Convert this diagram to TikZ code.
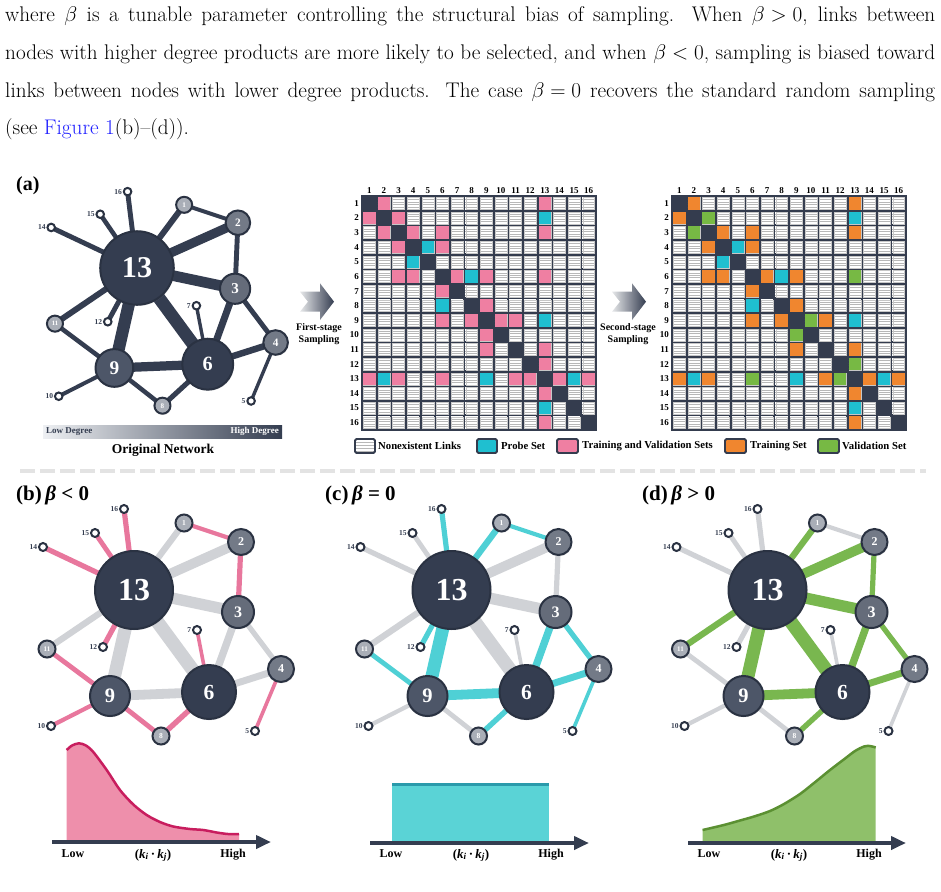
\RequirePackage{fix-cm}
\documentclass[tikz,border=0pt]{standalone}
\usepackage{fontspec}
\newfontfamily\figfont{Liberation Serif}
\usetikzlibrary{arrows.meta,shadows}
\pgfdeclarelayer{bgl}
\pgfdeclarelayer{edges}
\pgfsetlayers{bgl,edges,main}

\definecolor{ndark}{HTML}{343D50}
\definecolor{nnine}{HTML}{4D5668}
\definecolor{nthree}{HTML}{656C7A}
\definecolor{ngray}{HTML}{737A87}
\definecolor{nlight}{HTML}{A9AEB7}
\definecolor{nborder}{HTML}{2A3242}
\definecolor{egray}{HTML}{D0D2D6}
\definecolor{hlb}{HTML}{E8779D}
\definecolor{hlc}{HTML}{4FD0D5}
\definecolor{hld}{HTML}{79B74F}
\definecolor{probec}{HTML}{1FBFD0}
\definecolor{pinkc}{HTML}{EF7FA2}
\definecolor{orangec}{HTML}{F0862F}
\definecolor{greenc}{HTML}{77B944}
\definecolor{griddark}{HTML}{343C4E}
\definecolor{sepgray}{HTML}{E3E3E3}
\definecolor{linkblue}{RGB}{30,30,255}
\definecolor{barlight}{HTML}{EEF0F3}
\definecolor{pinkfill}{HTML}{EE8FAB}
\definecolor{pinkline}{HTML}{C81D5E}
\definecolor{cyanfill}{HTML}{5AD3D6}
\definecolor{cyanline}{HTML}{2A9AAB}
\definecolor{greenfill}{HTML}{8FC06A}
\definecolor{greenline}{HTML}{5B9032}
\colorlet{m1T}{pinkc}\colorlet{m1V}{pinkc}\colorlet{m1P}{probec}
\colorlet{m2T}{orangec}\colorlet{m2V}{greenc}\colorlet{m2P}{probec}

\newcommand\fixmuskips{\thickmuskip=5mu\relax\medmuskip=4mu\relax}

\tikzset{
  netnode/.style={circle, draw=nborder, line width=2pt, inner sep=0pt, text=white,
    drop shadow={opacity=0.22, shadow xshift=0.8pt, shadow yshift=-1.2pt}},
  tinynode/.style={circle, draw=nborder, fill=white, line width=2pt, inner sep=0pt},
  tinylabel/.style={font=\figfont\bfseries\fontsize{7.5}{7.5}\selectfont, text=ndark, inner sep=0.3pt},
  mlabel/.style={font=\figfont\bfseries\fontsize{9}{9}\selectfont, text=black, inner sep=0.5pt},
  cellline/.style={draw=black!28, line width=0.35pt},
  cellrim/.style={draw=black!22, line width=0.4pt},
  legtext/.style={font=\figfont\bfseries\fontsize{10.7}{10.7}\selectfont, anchor=west, inner sep=0pt},
  legrim/.style={draw=griddark, line width=1.8pt, rounded corners=1.5pt},
  titletext/.style={font=\figfont\bfseries\fontsize{21}{21}\selectfont, anchor=base west, inner sep=0pt},
  axislabel/.style={font=\figfont\bfseries\fontsize{12}{12}\selectfont, anchor=base, inner sep=0pt},
  axisline/.style={draw=ndark, line width=4pt, -{Triangle[length=15pt,width=13pt]}},
  sampletext/.style={font=\figfont\bfseries\fontsize{10}{12}\selectfont, align=center, inner sep=0pt},
  paratext/.style={anchor=base west, inner sep=0pt, font=\fontsize{21.2}{24}\selectfont},
}

% #1 prefix, #2 cx, #3 cy, #4 scale, #5 mode (0 a, 1 b, 2 c, 3 d)
\newcommand\drawnet[5]{%
  \foreach \nn/\dx/\dy/\rr/\fc/\fsz in {13/0/0/39/ndark/32, 6/75/102/27/ndark/21.5, 9/-24/106/20/nnine/20.5,
     3/104/22/16/nthree/16, 2/107/-48/13/ngray/12, 4/147/79/13/ngray/12,
     1/50/-67/8.5/nlight/7.5, 11/-87/59/8.5/nlight/7, 8/27/146/8.5/nlight/7.5}{%
    \pgfmathsetmacro\fsize{\fsz*#4}%
    \node[netnode, minimum size={2*\rr*#4*1pt}, fill=\fc,
      font=\figfont\bfseries\fontsize{\fsize}{\fsize}\selectfont]
      (#1\nn) at ({#2+\dx*#4},{#3+\dy*#4}) {\nn};
  }%
  \foreach \nn/\dx/\dy in {16/-10/-81, 15/-39/-57, 14/-91/-43, 12/-31/57, 7/63/40, 10/-83/136, 5/121/141}{%
    \node[tinynode, minimum size={8*#4*1pt}, label={[tinylabel]left:\nn}]
      (#1\nn) at ({#2+\dx*#4},{#3+\dy*#4}) {};
  }%
  \begin{pgfonlayer}{edges}
  \foreach \na/\nb/\lw/\hb/\hc/\hd in {13/16/5.2/1/1/0, 13/15/4.8/1/0/0, 13/14/5.2/1/0/0, 13/1/6.3/0/1/1,
     13/2/9.8/0/0/1, 13/3/11.3/0/0/1, 13/11/6.3/0/0/1, 13/12/5.2/1/1/0, 13/9/13/0/1/1, 13/6/13.5/0/0/1,
     1/2/4.2/1/1/0, 2/3/5.2/1/0/1, 3/6/7.4/0/1/1, 3/4/5.2/0/1/1, 6/7/3.6/1/0/0, 6/4/6.9/0/1/1,
     6/9/9.8/0/1/1, 6/8/5.4/1/1/1, 9/11/4.8/1/1/0, 9/10/4.2/1/0/0, 9/8/4.8/1/0/0, 4/5/3.6/1/1/0}{%
    \ifcase#5\relax \def\ecol{ndark}%
    \or \ifnum\hb=1 \def\ecol{hlb}\else\def\ecol{egray}\fi
    \or \ifnum\hc=1 \def\ecol{hlc}\else\def\ecol{egray}\fi
    \or \ifnum\hd=1 \def\ecol{hld}\else\def\ecol{egray}\fi
    \fi
    \draw[draw=\ecol, line width={\lw*#4*1pt}] (#1\na.center) -- (#1\nb.center);
  }%
  \end{pgfonlayer}
}

% #1 prefix, #2 left x, #3 top y, #4 colour prefix
\newcommand\drawmatrix[4]{%
  \fill[griddark] (#2-1,#3-1) rectangle (#2+235,#3+235);
  \foreach \mr in {1,...,16}{%
    \node[mlabel, anchor=east] (#1r\mr) at (#2-2.5, {#3+(\mr-0.5)*14.625}) {\mr};
    \node[mlabel, anchor=south] (#1c\mr) at ({#2+(\mr-0.5)*14.625}, #3-1.5) {\mr};
    \foreach \mc in {1,...,16}{%
      \ifnum\mr=\mc\relax\else
        \pgfmathsetmacro\xa{#2+(\mc-1)*14.625+1.1}%
        \pgfmathsetmacro\ya{#3+(\mr-1)*14.625+1.1}%
        \fill[white] (\xa,\ya) rectangle +(12.4,12.4);
        \draw[cellline] (\xa,\ya+2.5) -- +(12.4,0) (\xa,\ya+4.9) -- +(12.4,0)
                        (\xa,\ya+7.4) -- +(12.4,0) (\xa,\ya+9.9) -- +(12.4,0);
        \draw[cellrim] (\xa+0.3,\ya+0.3) rectangle +(11.8,11.8);
      \fi
    }%
  }%
  \foreach \ea/\eb/\et in {1/2/T, 1/13/T, 2/3/V, 2/13/P, 3/4/T, 3/6/T, 3/13/T, 4/5/P, 4/6/T, 6/7/T,
     6/8/P, 6/9/T, 6/13/V, 8/9/T, 9/10/V, 9/11/T, 9/13/P, 11/13/T, 12/13/V, 13/14/T, 13/15/P, 13/16/T}{%
    \edef\cellcol{#4\et}%
    \fill[fill=\cellcol] ({#2+(\eb-1)*14.625+1.1},{#3+(\ea-1)*14.625+1.1}) rectangle +(12.4,12.4);
    \fill[fill=\cellcol] ({#2+(\ea-1)*14.625+1.1},{#3+(\eb-1)*14.625+1.1}) rectangle +(12.4,12.4);
  }%
}

\begin{document}
\begin{tikzpicture}[x=1pt,y=-1pt,label distance=0.4pt]
\useasboundingbox (0,0) rectangle (941,891);
\begin{pgfonlayer}{bgl}
  \fill[white] (0,0) rectangle (941,891);
\end{pgfonlayer}

% ---------- paragraph ----------
\node[paratext] (t1) at (5,22) {\fixmuskips\makebox[930pt][s]{where $\beta$ is a tunable parameter controlling the structural bias of sampling. When $\beta > 0$, links between}};
\node[paratext] (t2) at (5,59.5) {\fixmuskips\makebox[930pt][s]{nodes with higher degree products are more likely to be selected, and when $\beta < 0$, sampling is biased toward}};
\node[paratext] (t3) at (5,97) {\fixmuskips\makebox[930pt][s]{links between nodes with lower degree products. The case $\beta = 0$ recovers the standard random sampling}};
\node[paratext] (t4) at (5,134.5) {(see \textcolor{linkblue}{Figure 1}(b)--(d)).};

% ---------- panel (a) ----------
\node[titletext, font=\figfont\bfseries\fontsize{20}{20}\selectfont] (ta) at (16,190) {(a)};
\drawnet{a}{137}{268}{0.943}{0}
\shade[left color=barlight, right color=ndark] (43,425) rectangle (282,438);
\node[font=\figfont\bfseries\fontsize{9}{9}\selectfont, text=ndark, anchor=west, inner sep=0pt] (lowdeg) at (46,431.5) {Low Degree};
\node[font=\figfont\bfseries\fontsize{9}{9}\selectfont, text=white, anchor=east, inner sep=0pt] (highdeg) at (279,431.5) {High Degree};
\node[font=\figfont\bfseries\fontsize{13.5}{13.5}\selectfont, inner sep=0pt] (orig) at (163,450) {Original Network};

% ---------- arrows ----------
\shade[left color=white!88!ndark, right color=ndark] (300,291.7) -- (320,291.7) -- (320,283.3) -- (334,301.7) -- (320,320) -- (320,311.7) -- (300,311.7) -- (308,301.7) -- cycle;
\node[sampletext] (s1) at (319,334.5) {First-stage\\Sampling};
\shade[left color=white!88!ndark, right color=ndark] (612,291.7) -- (632,291.7) -- (632,283.3) -- (646,301.7) -- (632,320) -- (632,311.7) -- (612,311.7) -- (620,301.7) -- cycle;
\node[sampletext] (s2) at (628,334.5) {Second-stage\\Sampling};

% ---------- matrices ----------
\drawmatrix{ma}{362}{196}{m1}
\drawmatrix{mb}{672}{196}{m2}

% ---------- legend ----------
\fill[white] (355,439) rectangle (375,453);
\draw[cellline] (355,442.5) -- (375,442.5) (355,445.5) -- (375,445.5) (355,448.5) -- (375,448.5) (355,451) -- (375,451);
\draw[legrim] (355,439) rectangle (375,453);
\node[legtext] (l1) at (378,446) {Nonexistent Links};
\draw[legrim, fill=probec] (477,439) rectangle (497,453);
\node[legtext] (l2) at (501,446) {Probe Set};
\draw[legrim, fill=pinkc] (557,439) rectangle (578,453);
\node[legtext] (l3) at (582,446) {Training and Validation Sets};
\draw[legrim, fill=orangec] (725,439) rectangle (746,453);
\node[legtext] (l4) at (750,446) {Training Set};
\draw[legrim, fill=greenc] (818,439) rectangle (839,453);
\node[legtext] (l5) at (842,446) {Validation Set};

% ---------- separator ----------
\draw[draw=sepgray, line width=4.5pt, dash pattern=on 15pt off 5pt] (20,471) -- (926,471);

% ---------- panels b, c, d ----------
\node[titletext] (tb) at (16,500) {(b)\,\textit{β} < 0};
\node[titletext] (tc) at (325,500) {(c)\,\textit{β} = 0};
\node[titletext] (td) at (642,500) {(d)\,\textit{β} > 0};
\drawnet{b}{134}{590}{1}{1}
\drawnet{c}{451.5}{590}{1}{2}
\drawnet{d}{767.5}{590}{1}{3}

% ---------- distributions ----------
% (b)
\fill[pinkfill] (66.7,840) -- plot[smooth] coordinates {(66.7,750) (72,745.5) (79,743.3) (86,745.5) (93.3,752) (106.7,770) (120,790) (133.3,804.5) (146.7,815) (160,822) (173.3,826.5) (190,829) (203.3,830) (216.7,832.5) (228,834) (239,834)} -- (239,840) -- cycle;
\draw[pinkline, line width=2.5pt] plot[smooth] coordinates {(66.7,750) (72,745.5) (79,743.3) (86,745.5) (93.3,752) (106.7,770) (120,790) (133.3,804.5) (146.7,815) (160,822) (173.3,826.5) (190,829) (203.3,830) (216.7,832.5) (228,834) (239,834)};
\coordinate (bax0) at (52,842);
\coordinate (bax1) at (271,842);
\draw[axisline] (bax0) -- (bax1);
% (c)
\fill[cyanfill] (392,785) rectangle (549,841);
\draw[cyanline, line width=3pt] (392,784.5) -- (549,784.5);
\coordinate (cax0) at (370,843);
\coordinate (cax1) at (589,843);
\draw[axisline] (cax0) -- (cax1);
% (d)
\fill[greenfill] (702.6,841) -- plot[smooth] coordinates {(702.6,830) (723.8,825) (740,820.5) (754,816.5) (770,811) (784,804) (800,794) (814,783) (830,770) (844.4,759) (855,751) (864,746.5) (870,746) (875.7,747.5)} -- (875.7,841) -- cycle;
\draw[greenline, line width=2.5pt] plot[smooth] coordinates {(702.6,830) (723.8,825) (740,820.5) (754,816.5) (770,811) (784,804) (800,794) (814,783) (830,770) (844.4,759) (855,751) (864,746.5) (870,746) (875.7,747.5)};
\coordinate (dax0) at (688,843);
\coordinate (dax1) at (906,843);
\draw[axisline] (dax0) -- (dax1);

\foreach \ax/\px in {b/52, c/370, d/688}{
  \node[axislabel] (\ax low) at (\px+21,857) {Low};
  \node[axislabel, font=\figfont\bfseries\fontsize{13}{13}\selectfont] (\ax kk) at (\px+101,858) {(\textit{k}\textsubscript{\textit{i}}\,·\,\textit{k}\textsubscript{\textit{j}})};
  \node[axislabel] (\ax high) at (\px+181,857) {High};
}
\end{tikzpicture}
\end{document}
